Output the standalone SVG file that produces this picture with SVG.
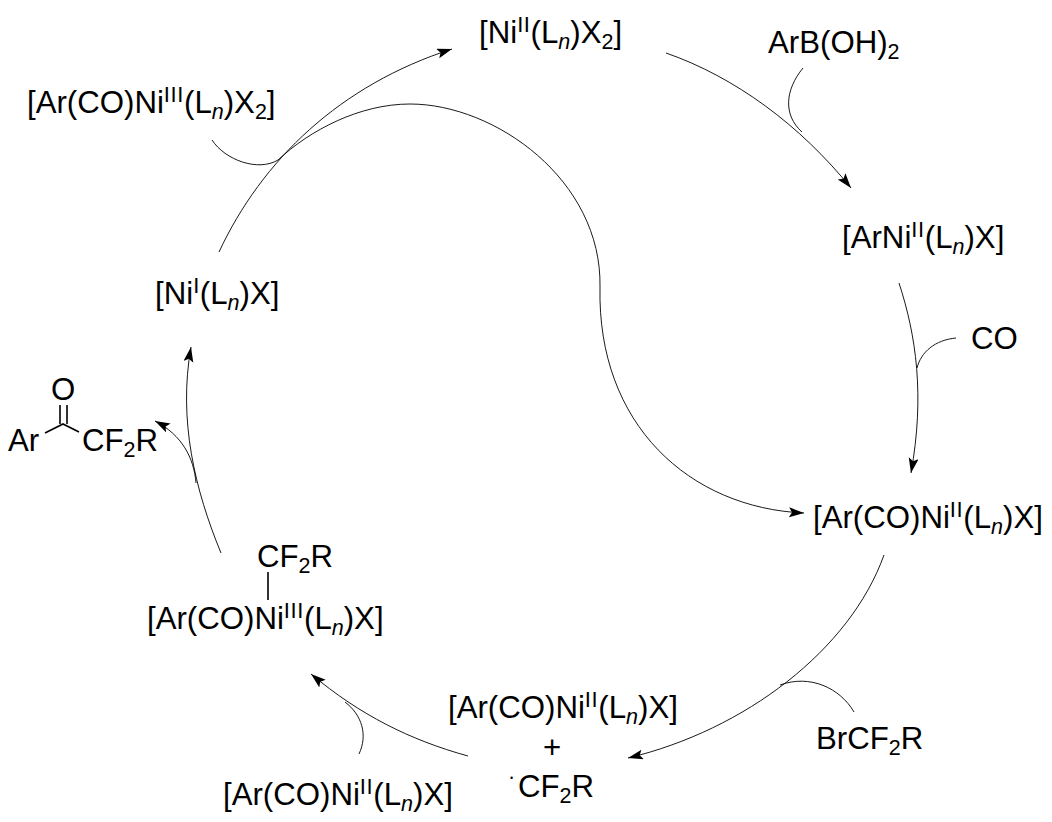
<svg xmlns="http://www.w3.org/2000/svg" width="1052" height="822" viewBox="0 0 1052 822">
<style>
text{font-family:"Liberation Sans",Arial,sans-serif;font-size:31.2px;fill:#000}
.s{font-size:21.5px}
.u{font-size:22px;letter-spacing:.6px}
.i{font-style:italic}
.c{fill:none;stroke:#000;stroke-width:.9}
.b{fill:none;stroke:#000;stroke-width:1.6}
</style>
<defs>
<marker id="a" markerUnits="userSpaceOnUse" markerWidth="18" markerHeight="12" refX="15" refY="5" orient="auto"><path d="M0 0L15 5L0 10L3 5Z" fill="#000"/></marker>
</defs>
<rect width="1052" height="822" fill="#fff"/>
<g id="connectors">
<path class="c" marker-end="url(#a)" d="M666 53C735 77 800 125 851 188"/>
<path class="c" d="M803 68C785 90 783 115 802 132"/>
<path class="c" marker-end="url(#a)" d="M899 283C916 335 925 395 911 473"/>
<path class="c" d="M956 338C935 340 921 352 917 368"/>
<path class="c" marker-end="url(#a)" d="M212 140C225 160 258 172 278 160C310 130 360 104 410 104C495 104 602 180 600 287C597 425 690 508 804 513"/>
<path class="c" marker-end="url(#a)" d="M219 252C262 160 340 85 452 49"/>
<path class="c" marker-end="url(#a)" d="M884 555C850 650 745 730 628 758"/>
<path class="c" d="M854 712C840 688 810 674 780 685"/>
<path class="c" marker-end="url(#a)" d="M468 756C410 740 360 715 311 674"/>
<path class="c" d="M359 754C368 735 362 715 345 702"/>
<path class="c" marker-end="url(#a)" d="M221 553C195 490 178 420 191 347"/>
<path class="c" marker-end="url(#a)" d="M196 483C194 458 182 435 155 421"/>
<path class="b" d="M268 572V600"/>
<path class="b" d="M45 433L63 424L79 432"/>
<path class="b" d="M60 405V424M67 405V424"/>
</g>
<g id="n-ni2"><text x="479" y="43">[Ni<tspan class="u" dy="-11">II</tspan><tspan dy="11">(L</tspan><tspan class="s i" dy="6">n</tspan><tspan dy="-6">)X</tspan><tspan class="s" dy="6">2</tspan><tspan dy="-6">]</tspan></text></g>
<g id="n-arb"><text x="768" y="53">ArB(OH)<tspan class="s" dy="6">2</tspan></text></g>
<g id="n-arni"><text x="842" y="248">[ArNi<tspan class="u" dy="-11">II</tspan><tspan dy="11">(L</tspan><tspan class="s i" dy="6">n</tspan><tspan dy="-6">)X]</tspan></text></g>
<g id="n-co"><text x="971" y="349">CO</text></g>
<g id="n-arco"><text x="813" y="528">[Ar(CO)Ni<tspan class="u" dy="-11">II</tspan><tspan dy="11">(L</tspan><tspan class="s i" dy="6">n</tspan><tspan dy="-6">)X]</tspan></text></g>
<g id="n-br"><text x="816" y="749">BrCF<tspan class="s" dy="6">2</tspan><tspan dy="-6">R</tspan></text></g>
<g id="n-mid"><text x="448" y="718">[Ar(CO)Ni<tspan class="u" dy="-11">II</tspan><tspan dy="11">(L</tspan><tspan class="s i" dy="6">n</tspan><tspan dy="-6">)X]</tspan></text><text x="543" y="758">+</text><text class="s" x="508" y="784">·</text><text x="518" y="797">CF<tspan class="s" dy="6">2</tspan><tspan dy="-6">R</tspan></text></g>
<g id="n-bot"><text x="223" y="805">[Ar(CO)Ni<tspan class="u" dy="-11">II</tspan><tspan dy="11">(L</tspan><tspan class="s i" dy="6">n</tspan><tspan dy="-6">)X]</tspan></text></g>
<g id="n-ni3cf"><text x="257" y="567">CF<tspan class="s" dy="6">2</tspan><tspan dy="-6">R</tspan></text><text x="147" y="629">[Ar(CO)Ni<tspan class="u" dy="-11">III</tspan><tspan dy="11">(L</tspan><tspan class="s i" dy="6">n</tspan><tspan dy="-6">)X]</tspan></text></g>
<g id="n-ketone"><text x="51" y="400">O</text><text x="8" y="451">Ar</text><text x="82" y="451">CF<tspan class="s" dy="6">2</tspan><tspan dy="-6">R</tspan></text></g>
<g id="n-ni1"><text x="155" y="304">[Ni<tspan class="u" dy="-11">I</tspan><tspan dy="11">(L</tspan><tspan class="s i" dy="6">n</tspan><tspan dy="-6">)X]</tspan></text></g>
<g id="n-ni3"><text x="27" y="113">[Ar(CO)Ni<tspan class="u" dy="-11">III</tspan><tspan dy="11">(L</tspan><tspan class="s i" dy="6">n</tspan><tspan dy="-6">)X</tspan><tspan class="s" dy="6">2</tspan><tspan dy="-6">]</tspan></text></g>
</svg>
